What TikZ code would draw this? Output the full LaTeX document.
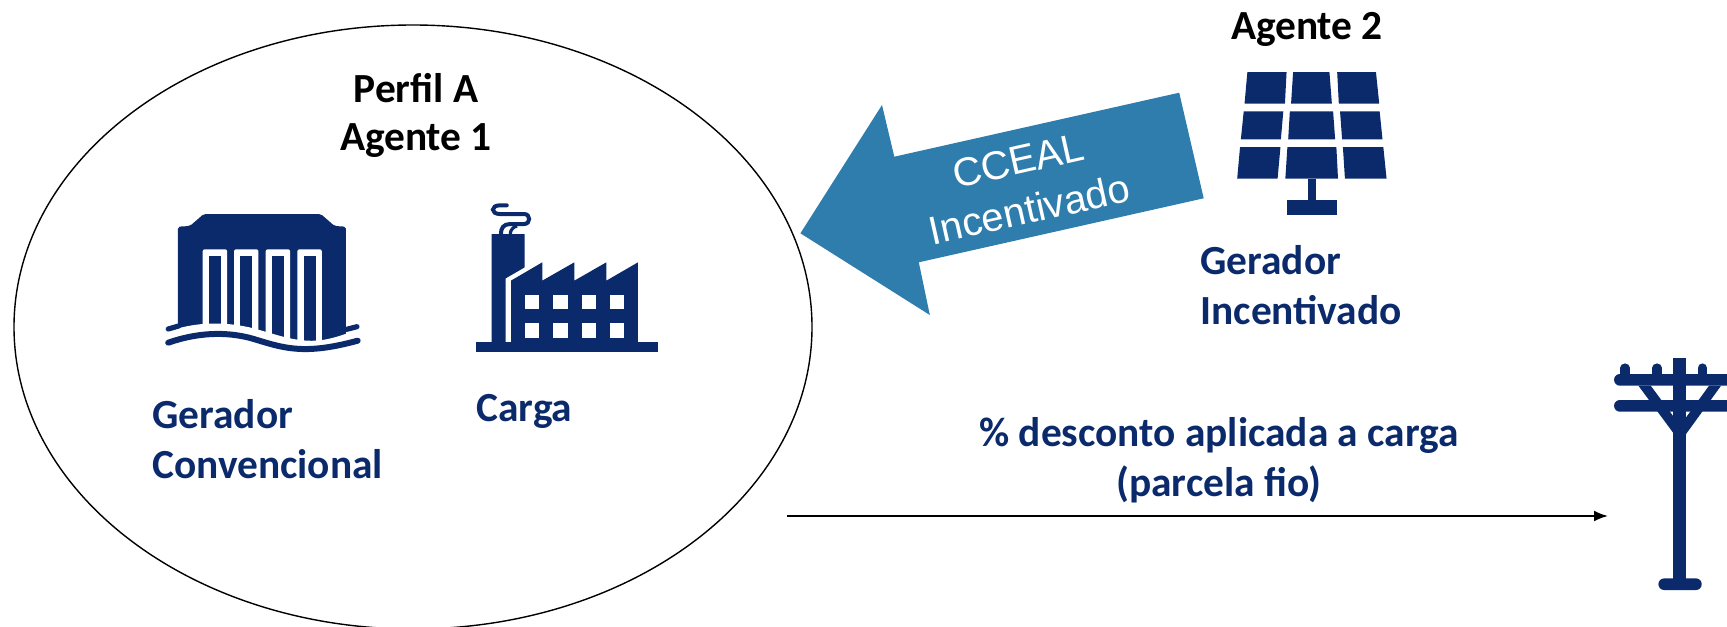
\documentclass[tikz,border=0pt]{standalone}
\usepackage{fontspec}
\setmainfont{Carlito}
\newfontfamily\arialfont{Liberation Sans}
\usetikzlibrary{shapes.geometric,arrows.meta}
\definecolor{navy}{HTML}{0B2A6C}
\definecolor{arrowblue}{HTML}{2E7DAD}
\tikzset{
  labelnavy/.style={font=\fontsize{20.7}{25}\selectfont\bfseries,text=navy,align=left,anchor=west,inner sep=0pt},
  labelblack/.style={font=\fontsize{20.7}{24}\selectfont\bfseries,text=black,align=center,inner sep=0pt},
  iconA/.style={x=0.172195pt,y=-0.16667pt},
  iconB/.style={x=0.204082pt,y=-0.16667pt},
  iconC/.style={x=0.16667pt,y=-0.16667pt},
  iconline/.style={draw=navy,line cap=round}
}
\begin{document}
\begin{tikzpicture}[x=0.5pt,y=-0.5pt]
\useasboundingbox (0,0) rectangle (1727,626);
\clip (0,0) rectangle (1727,626);
\node[ellipse,draw=black,line width=0.7pt,minimum width=399pt,minimum height=302pt,inner sep=0pt] (perfil) at (413,327) {};
\node[labelblack] (titlea) at (416,115) {Perfil A\\Agente 1};
\node[labelblack] (titleb) at (1307,29) {Agente 2};
\node[labelnavy] (gc) at (152,439) {Gerador\\Convencional};
\node[labelnavy] (carga) at (476,411) {Carga};
\node[labelnavy] (gi) at (1200,285.5) {Gerador\\Incentivado};
\node[labelnavy,anchor=center,align=center] (desc) at (1219,460) {\% desconto aplicada a carga\\(parcela fio)};
% block arrow
\fill[arrowblue] (800.4,233.3) -- (882,105) -- (894.3,156.7) -- (1179.2,92.7) -- (1203.7,198.3) -- (918.8,262.3) -- (929.8,315) -- cycle;
\node[rotate=12.65,text=white,align=center,inner sep=0pt,font=\arialfont\fontsize{20}{25}\selectfont] (cceal) at (1024,185) {CCEAL\\Incentivado};
% line arrow
\coordinate (linestart) at (787,516);
\coordinate (lineend) at (1608,516);
\draw[-{Latex[length=7pt,width=5.5pt]},line width=1pt,black] (linestart) -- (lineend);
% hydro plant
\begin{scope}[iconA,shift={(406.5,570)}]
\fill[navy,rounded corners=1pt] (110,520) -- (110,110) -- (145,108) -- (185,72) -- (525,72) -- (565,108) -- (598,110) -- (598,520) -- cycle;
\foreach \xa in {182,273,365,457}{
  \fill[white,rounded corners=1pt] (\xa,520) -- (\xa,178) -- (\xa+71,178) -- (\xa+71,520) -- cycle;
  \fill[navy] (\xa+18.5,198) rectangle (\xa+53,520);
}
\fill[white] (70,424) -- (82,424) .. controls (150,400) and (230,390) .. (330,415) .. controls (400,435) and (450,455) .. (510,452) .. controls (550,450) and (590,435) .. (650,412) -- (650,540) -- (70,540) -- cycle;
\draw[iconline,line width=2.6pt] (82,417) -- (112,408);
\draw[iconline,line width=2.6pt] (600,418) -- (630,410);
\draw[iconline,line width=3pt] (82,458) .. controls (160,430) and (250,420) .. (340,450) .. controls (420,475) and (480,495) .. (632,452);
\end{scope}
% factory
\begin{scope}[iconA,shift={(406.5,570)}]
\fill[navy] (1021,132) -- (1117,132) -- (1117,232) -- (1062,265) -- (1062,460) -- (1021,460) -- cycle;
\fill[navy] (1077,272) -- (1168,217) -- (1168,272) -- (1261,217) -- (1261,272) -- (1354,217) -- (1354,272) -- (1446,217) -- (1446,460) -- (1077,460) -- cycle;
\fill[navy] (976,455) rectangle (1503,485);
\fill[white] (1064,265) rectangle (1076,455);
\foreach \wx in {1118,1200,1282,1364}{
  \fill[white] (\wx,315) rectangle (\wx+42,358);
  \fill[white] (\wx,400) rectangle (\wx+42,443);
}
\draw[navy,line width=2pt,line cap=round] (1065,46) -- (1045,46) .. controls (1018,46) and (1018,72) .. (1045,72) -- (1115,72) .. controls (1135,72) and (1135,102) .. (1115,102) -- (1075,102) .. controls (1055,102) and (1048,115) .. (1048,132);
\draw[navy,line width=1.6pt] (1075,132) .. controls (1076,118) and (1085,110) .. (1095,108);
\end{scope}
% solar panel
\begin{scope}[iconB,shift={(1911,0)}]
\fill[navy] (1145,216) -- (1241,216) -- (1237,311) -- (1138,311) -- cycle;
\fill[navy] (1257,216) -- (1346,216) -- (1352,311) -- (1252,311) -- cycle;
\fill[navy] (1365,216) -- (1460,216) -- (1468,311) -- (1369,311) -- cycle;
\fill[navy] (1136,334) -- (1233,334) -- (1227,418) -- (1129,418) -- cycle;
\fill[navy] (1249,334) -- (1355,334) -- (1360,418) -- (1245,418) -- cycle;
\fill[navy] (1372,334) -- (1469,334) -- (1476,418) -- (1377,418) -- cycle;
\fill[navy] (1127,441) -- (1226,441) -- (1219,536) -- (1120,536) -- cycle;
\fill[navy] (1243,441) -- (1363,441) -- (1367,536) -- (1238,536) -- cycle;
\fill[navy] (1379,441) -- (1478,441) -- (1486,536) -- (1384,536) -- cycle;
\fill[navy] (1294,536) rectangle (1312,601);
\fill[navy] (1242,601) rectangle (1364,644);
\end{scope}
% pole
\begin{scope}[iconC,shift={(4680,1020)}]
\fill[navy] (340,54) rectangle (378,730);
\fill[navy,rounded corners=2.9pt] (295,715) rectangle (425,750);
\fill[navy,rounded corners=2.9pt] (162,102) rectangle (560,137);
\fill[navy,rounded corners=2.9pt] (162,180) rectangle (560,215);
\foreach \ix in {195,291,427}{
  \draw[navy,line width=4.6pt,line cap=round] (\ix,84) -- (\ix,110);
}
\fill[navy] (235,137) -- (272,137) -- (342,232) -- (378,232) -- (447,137) -- (483,137) -- (378,282) -- (358,290) -- (342,282) -- cycle;
\end{scope}
\end{tikzpicture}
\end{document}
